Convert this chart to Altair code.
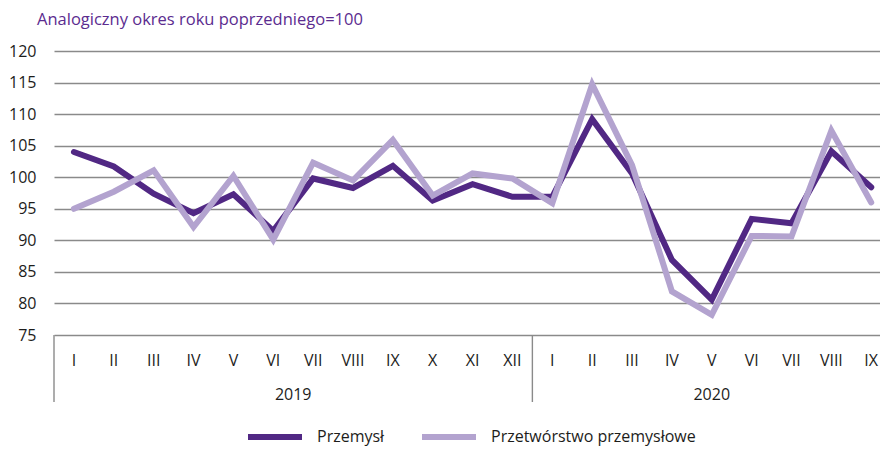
import altair as alt
import pandas as pd

# ---- data ----
months_2019 = ["I", "II", "III", "IV", "V", "VI", "VII", "VIII", "IX", "X", "XI", "XII"]
months_2020 = ["I", "II", "III", "IV", "V", "VI", "VII", "VIII", "IX"]
years = ["2019", "2020"]
series_names = ["Przemysł", "Przetwórstwo przemysłowe"]
przemysl = [104.0, 101.7, 97.4, 94.3, 97.3, 91.5, 99.8, 98.3, 101.8, 96.3, 98.9, 96.9,
            96.9, 109.2, 100.6, 86.9, 80.6, 93.4, 92.7, 104.1, 98.4]
przetworstwo = [95.0, 97.7, 101.1, 92.1, 100.2, 90.1, 102.3, 99.5, 105.9, 97.1, 100.6, 99.8,
                95.9, 114.7, 101.9, 81.9, 78.2, 90.7, 90.6, 107.4, 96.0]
y_ticks = [75, 80, 85, 90, 95, 100, 105, 110, 115, 120]
subtitle = "Analogiczny okres roku poprzedniego=100"

# ---- tables built from the arrays ----
months = months_2019 + months_2020
idx = list(range(len(months)))
rows = []
for name, vals in zip(series_names, [przemysl, przetworstwo]):
    for i, v in zip(idx, vals):
        rows.append({"i": i, "v": v, "s": name})
df = pd.DataFrame(rows)
df_months = pd.DataFrame({"i": idx, "m": months})
n19 = len(months_2019)
df_years = pd.DataFrame({"year": years,
                         "c": [(n19 - 1) / 2, (n19 + len(months) - 1) / 2]})
df_div = pd.DataFrame({"x": [-0.5, n19 - 0.5]})

W, H = 826, 284
FONT = "Open Sans"
DARK = "#512884"
LIGHT = "#b3a3cf"
GRID = "#8a8a8a"
TXT = "#1d1d1b"

xscale = alt.Scale(domain=[-0.5, 20.22], nice=False, zero=False)
yscale = alt.Scale(domain=[75, 120], nice=False, zero=False)

lines = alt.Chart(df).mark_line(strokeWidth=6, strokeCap="round", strokeJoin="miter").encode(
    x=alt.X("i:Q", scale=xscale, axis=None),
    y=alt.Y("v:Q", scale=yscale,
            axis=alt.Axis(values=y_ticks, grid=True, gridColor=GRID, gridWidth=1.4,
                          domain=False, ticks=False, labelFontSize=16, labelFont=FONT,
                          labelColor=TXT, labelPadding=18, title=None)),
    color=alt.Color("s:N",
                    scale=alt.Scale(domain=series_names, range=[DARK, LIGHT]),
                    legend=alt.Legend(orient="none", legendX=191, legendY=356,
                                      direction="horizontal", title=None,
                                      symbolType="stroke", symbolStrokeWidth=6,
                                      symbolSize=2916, labelFontSize=16, labelFont=FONT,
                                      labelColor=TXT, columnPadding=25, labelOffset=12,
                                      labelLimit=400)),
)

month_text = alt.Chart(df_months).mark_text(fontSize=16, font=FONT, color=TXT, baseline="middle").encode(
    x=alt.X("i:Q", scale=xscale, axis=None),
    y=alt.value(H + 26),
    text="m:N",
)

year_text = alt.Chart(df_years).mark_text(fontSize=16, font=FONT, color=TXT, baseline="middle").encode(
    x=alt.X("c:Q", scale=xscale, axis=None),
    y=alt.value(H + 60),
    text="year:N",
)

dividers = alt.Chart(df_div).mark_rule(color=GRID, strokeWidth=1.4).encode(
    x=alt.X("x:Q", scale=xscale, axis=None),
    y=alt.value(H),
    y2=alt.value(H + 67),
)

sub = alt.Chart(pd.DataFrame({"t": [subtitle]})).mark_text(
    fontSize=16.5, font=FONT, color="#5b2c8f", align="left", baseline="alphabetic"
).encode(x=alt.value(-17), y=alt.value(-26), text="t:N")

chart = alt.layer(dividers, lines, month_text, year_text, sub).properties(
    width=W, height=H,
    autosize=alt.AutoSizeParams(type="none"),
    padding={"left": 46, "top": 43, "right": 0, "bottom": 114},
).configure_view(strokeWidth=0)

chart.save("out.html", embed_options={"renderer": "svg", "actions": False})
